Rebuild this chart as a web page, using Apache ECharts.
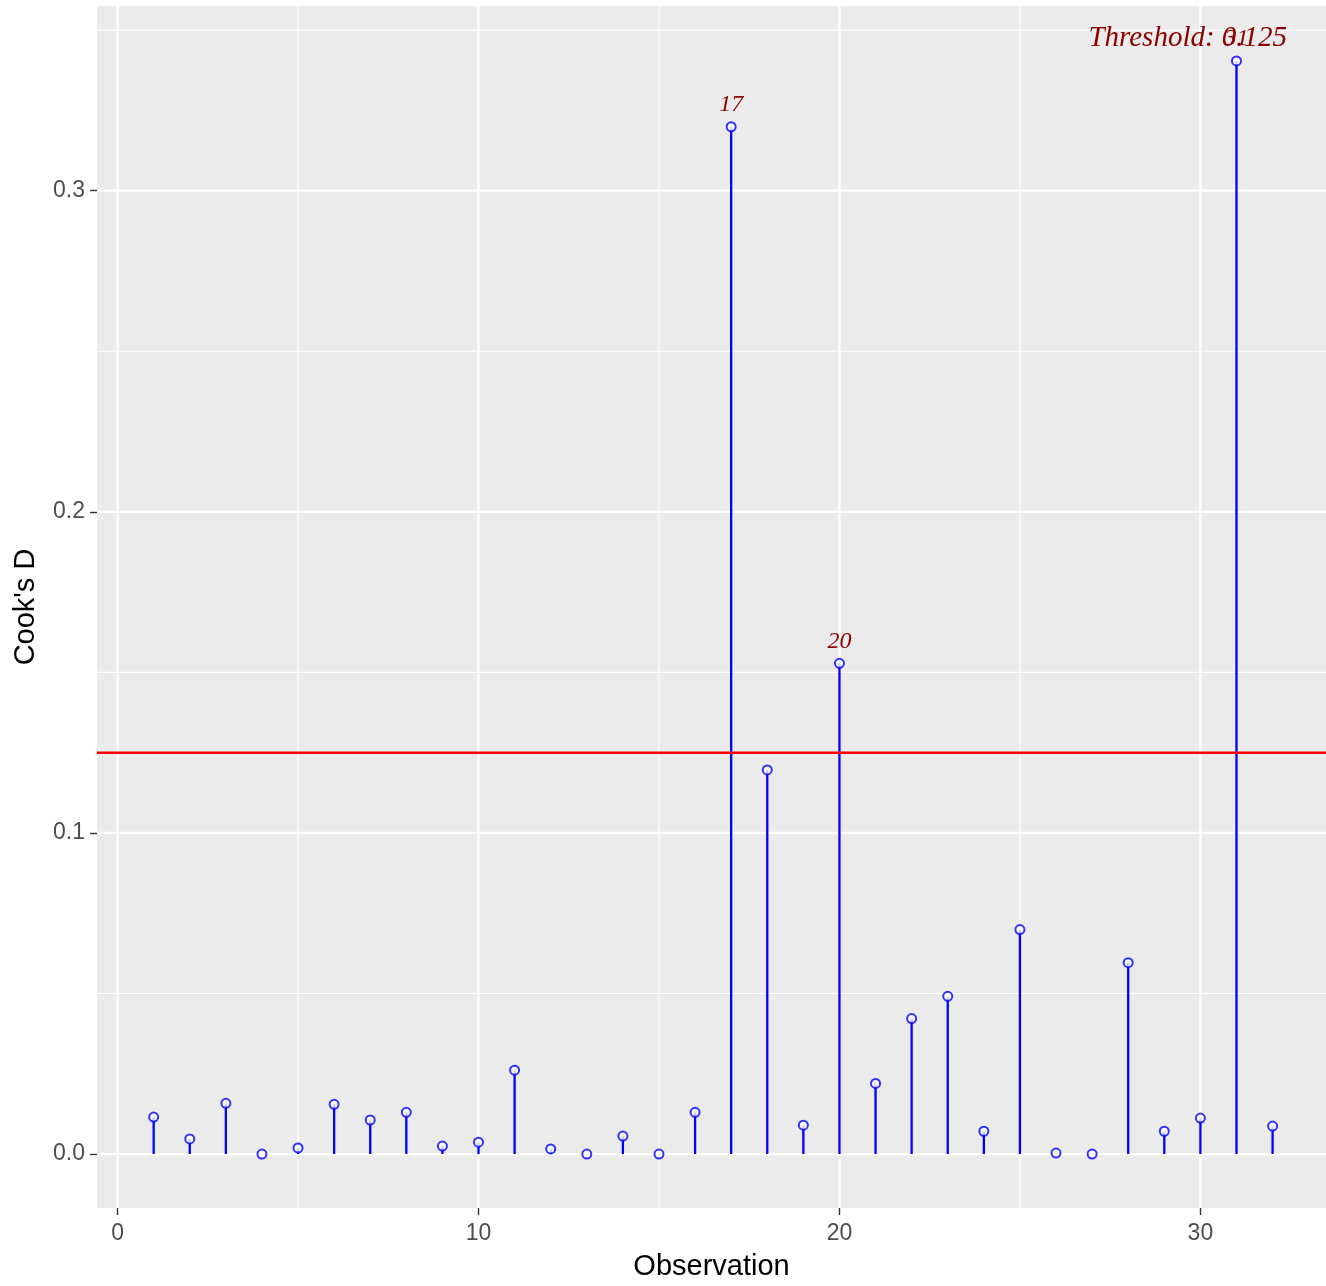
<!DOCTYPE html>
<html>
<head>
<meta charset="utf-8">
<script src="https://cdn.jsdelivr.net/npm/echarts@6/dist/echarts.min.js"></script>
<style>
html,body{margin:0;padding:0;background:#fff;}
#chart{width:1326px;height:1286px;}
</style>
</head>
<body>
<div id="chart"></div>
<script>
// ---- data ----
var observations = [1,2,3,4,5,6,7,8,9,10,11,12,13,14,15,16,17,18,19,20,21,22,23,24,25,26,27,28,29,30,31,32];
var cooksD = [0.0115,0.0047,0.0158,0.0000,0.0019,0.0155,0.0106,0.0130,0.0025,0.0037,0.0261,0.0016,0.0000,0.0056,0.0000,0.0130,
              0.3199,0.1196,0.0090,0.1528,0.0220,0.0422,0.0491,0.0071,0.0699,0.0003,0.0000,0.0596,0.0071,0.0112,0.3404,0.0087];
var threshold = 0.125;
var labeledObs = [17, 20, 31];
var thresholdLabel = "Threshold: 0.125";
var thresholdLabelPos = [29.65, 0.3475];
var xTicks = [0, 10, 20, 30];
var xMinor = [5, 15, 25];
var yTicks = [0, 0.1, 0.2, 0.3];
var yMinor = [0.05, 0.15, 0.25, 0.35];
var xRange = [-0.57, 33.48];
var yRange = [-0.0168, 0.3575];

// ---- build ----
var stemData = observations.map(function (o, i) { return [o, cooksD[i]]; });
var labelData = [];
observations.forEach(function (o, i) {
  if (labeledObs.indexOf(o) >= 0) labelData.push([o, cooksD[i], String(o)]);
});

var gridData = [];
xTicks.forEach(function (v) { gridData.push([0, v, 2.2]); });
xMinor.forEach(function (v) { gridData.push([0, v, 1.1]); });
yTicks.forEach(function (v) { gridData.push([1, v, 2.2]); });
yMinor.forEach(function (v) { gridData.push([1, v, 1.1]); });

var serif = 'Liberation Serif, Times New Roman, serif';
var sans = 'Liberation Sans, Arial, sans-serif';

var chart = echarts.init(document.getElementById('chart'), null, { renderer: 'canvas' });
var tickLabelStyle = { color: '#4D4D4D', fontSize: 23, fontFamily: sans };
var option = {
  animation: false,
  backgroundColor: '#ffffff',
  grid: { left: 97, right: 0, top: 6, bottom: 75, show: true, backgroundColor: '#EBEBEB', borderWidth: 0 },
  xAxis: {
    type: 'value', min: xRange[0], max: xRange[1],
    name: 'Observation', nameLocation: 'middle', nameGap: 44,
    nameTextStyle: { color: '#000', fontSize: 29, fontFamily: sans },
    axisLine: { show: false, onZero: false },
    axisTick: { show: true, customValues: xTicks, length: 7, lineStyle: { color: '#333333', width: 1.4 } },
    axisLabel: Object.assign({ customValues: xTicks, margin: 14 }, tickLabelStyle),
    splitLine: { show: false }
  },
  yAxis: {
    type: 'value', min: yRange[0], max: yRange[1],
    name: "Cook's D", nameLocation: 'middle', nameGap: 57, nameRotate: 90,
    nameTextStyle: { color: '#000', fontSize: 29, fontFamily: sans },
    axisLine: { show: false, onZero: false },
    axisTick: { show: true, customValues: yTicks, length: 7, lineStyle: { color: '#333333', width: 1.4 } },
    axisLabel: Object.assign({ customValues: yTicks, margin: 12, padding: [4, 0, 0, 0],
                               formatter: function (v) { return v.toFixed(1); } }, tickLabelStyle),
    splitLine: { show: false }
  },
  series: [
    {
      // panel grid lines
      type: 'custom', z: 1, silent: true,
      data: gridData,
      renderItem: function (params, api) {
        var isX = api.value(0) === 0, v = api.value(1), w = api.value(2);
        var a, b;
        if (isX) { a = api.coord([v, yRange[0]]); b = api.coord([v, yRange[1]]); }
        else { a = api.coord([xRange[0], v]); b = api.coord([xRange[1], v]); }
        return { type: 'line', shape: { x1: a[0], y1: a[1], x2: b[0], y2: b[1] },
                 style: { stroke: '#FFFFFF', lineWidth: w } };
      }
    },
    {
      // stems
      type: 'custom', z: 2, silent: true,
      data: stemData,
      renderItem: function (params, api) {
        var p0 = api.coord([api.value(0), 0]);
        var p1 = api.coord([api.value(0), api.value(1)]);
        return { type: 'line', shape: { x1: p0[0], y1: p0[1], x2: p1[0], y2: p1[1] },
                 style: { stroke: '#0000FF', lineWidth: 2.3 } };
      }
    },
    {
      type: 'scatter', z: 3, silent: true,
      symbol: 'emptyCircle', symbolSize: 9,
      itemStyle: { color: '#0000FF', borderColor: '#0000FF', borderWidth: 1.6 },
      data: stemData
    },
    {
      // threshold line
      type: 'custom', z: 4, silent: true,
      data: [[threshold]],
      renderItem: function (params, api) {
        var a = api.coord([xRange[0], api.value(0)]);
        var b = api.coord([xRange[1], api.value(0)]);
        return { type: 'line', shape: { x1: a[0], y1: a[1], x2: b[0], y2: b[1] },
                 style: { stroke: '#FF0000', lineWidth: 2.5 } };
      }
    },
    {
      // point labels
      type: 'custom', z: 5, silent: true,
      data: labelData,
      renderItem: function (params, api) {
        var p = api.coord([api.value(0), api.value(1)]);
        return { type: 'text', x: p[0], y: p[1] - 22,
                 style: { text: labelData[params.dataIndex][2], fill: '#8B0000', font: 'italic 24px ' + serif,
                          align: 'center', verticalAlign: 'middle' } };
      }
    },
    {
      // threshold annotation
      type: 'custom', z: 6, silent: true,
      data: [thresholdLabelPos],
      renderItem: function (params, api) {
        var p = api.coord([api.value(0), api.value(1)]);
        return { type: 'text', x: p[0], y: p[1],
                 style: { text: thresholdLabel, fill: '#8B0000', font: 'italic 29px ' + serif,
                          align: 'center', verticalAlign: 'middle' } };
      }
    }
  ]
};
chart.setOption(option);
</script>
</body>
</html>
